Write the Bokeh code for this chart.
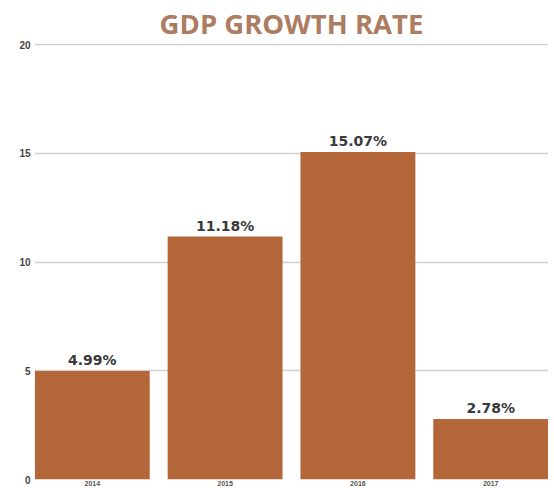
from bokeh.plotting import figure
from bokeh.models import Range1d, FixedTicker, ColumnDataSource
from bokeh.core.properties import value
from bokeh.embed import file_html
from bokeh.resources import INLINE

years = ["2014", "2015", "2016", "2017"]
growth = [4.99, 11.18, 15.07, 2.78]
labels = ["4.99%", "11.18%", "15.07%", "2.78%"]
y_ticks = [0, 5, 10, 15, 20]

xs = list(range(1, len(years) + 1))
src = ColumnDataSource(dict(x=xs, top=growth, label=labels))

p = figure(frame_width=514, frame_height=436, output_backend="svg", toolbar_location=None,
           x_range=Range1d(0.565, 4.435), y_range=Range1d(0, 20.06),
           min_border_left=34, min_border_right=0, min_border_top=0, min_border_bottom=0)

p.title.text = "GDP GROWTH RATE"
p.title.align = "center"
p.title.text_font = "Open Sans"
p.title.text_font_style = "bold"
p.title.text_font_size = "27.5px"
p.title.text_color = "#ad7d62"
p.title.standoff = 4

p.outline_line_color = None
p.background_fill_color = "white"
p.border_fill_color = "white"

p.vbar(x="x", top="top", width=0.865, bottom=0, source=src,
       fill_color="#b36638", line_color=None)

p.text(x="x", y="top", text="label", source=src, text_align="center",
       text_baseline="bottom", y_offset=-3, text_font=value("DejaVu Sans"),
       text_font_style="bold", text_font_size="14px", text_color="#3a3a3a")

p.xgrid.grid_line_color = None
p.ygrid.grid_line_color = "#d0d0d0"
p.ygrid.grid_line_width = 1.5
p.ygrid.ticker = FixedTicker(ticks=y_ticks)

p.yaxis.ticker = FixedTicker(ticks=y_ticks)
p.yaxis.axis_line_color = None
p.yaxis.major_tick_line_color = None
p.yaxis.minor_tick_line_color = None
p.yaxis.major_tick_out = 0
p.yaxis.major_label_text_font_size = "10px"
p.yaxis.major_label_text_font_style = "bold"
p.yaxis.major_label_text_color = "#444444"
p.yaxis.major_label_standoff = 4

p.xaxis.ticker = FixedTicker(ticks=xs)
p.xaxis.major_label_overrides = {i: y for i, y in zip(xs, years)}
p.xaxis.axis_line_color = None
p.xaxis.major_tick_line_color = None
p.xaxis.minor_tick_line_color = None
p.xaxis.major_tick_out = 0
p.xaxis.axis_label_standoff = 0
p.xaxis.major_label_text_font_size = "7px"
p.xaxis.major_label_text_font_style = "bold"
p.xaxis.major_label_text_color = "#555555"
p.xaxis.major_label_standoff = 1

open("out.html", "w").write(file_html(p, INLINE))
